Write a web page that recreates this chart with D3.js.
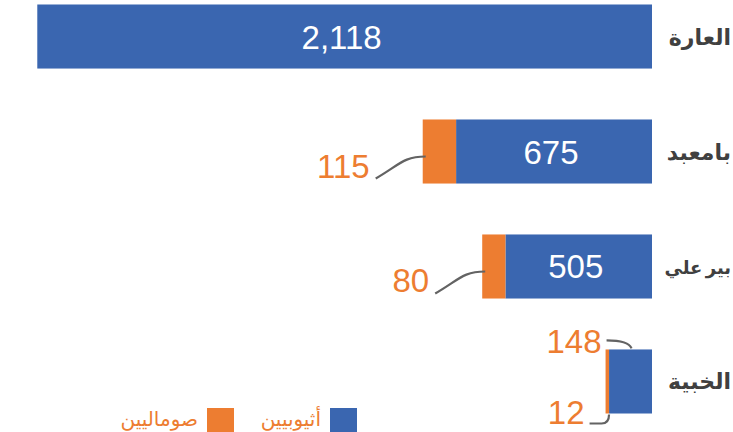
<!DOCTYPE html>
<html>
<head>
<meta charset="utf-8">
<script src="https://cdn.jsdelivr.net/npm/d3@7"></script>
<style>
  body { margin: 0; background: #fff; }
  svg { display: block; }
</style>
</head>
<body>
<svg id="chart" width="733" height="432"></svg>
<script>
// data
const categories = ["العارة", "بامعبد", "بير علي", "الخبية"];
const ethiopians = [2118, 675, 505, 148];
const somalis = [null, 115, 80, 12];
const legendLabels = ["أثيوبيين", "صوماليين"];

const blue = "#3A66B0",
  orange = "#ED7D31",
  leaderColor = "#636363",
  numFont = "'Liberation Sans', Arial, sans-serif";

const svg = d3.select("#chart");

// bars grow leftwards from the right edge
const x = d3.scaleLinear().domain([0, 2150]).range([652, 28]);
const y = d3
  .scaleBand()
  .domain(categories)
  .range([-21, 439])
  .paddingInner(0.443)
  .paddingOuter(0.2217);

const rows = categories.map((c, i) => ({
  cat: c,
  eth: ethiopians[i],
  som: somalis[i] || 0,
  i,
}));

const g = svg.append("g");

// blue part
g.selectAll(".eth")
  .data(rows)
  .enter()
  .append("rect")
  .attr("class", "eth")
  .attr("x", (d) => x(d.eth))
  .attr("y", (d) => y(d.cat))
  .attr("width", (d) => x(0) - x(d.eth))
  .attr("height", y.bandwidth())
  .attr("fill", blue);

// orange part stacked to the left
g.selectAll(".som")
  .data(rows.filter((d) => d.som > 0))
  .enter()
  .append("rect")
  .attr("class", "som")
  .attr("x", (d) => x(d.eth + d.som))
  .attr("y", (d) => y(d.cat))
  .attr("width", (d) => x(d.eth) - x(d.eth + d.som))
  .attr("height", y.bandwidth())
  .attr("fill", orange);

// category labels, shrunk so they stay right of the bars
g.selectAll(".cat")
  .data(rows)
  .enter()
  .append("text")
  .attr("class", "cat")
  .attr("x", 731)
  .attr("y", (d) => y(d.cat) + y.bandwidth() / 2 + 8)
  .attr("text-anchor", "end")
  .style("font-family", "'DejaVu Sans', sans-serif")
  .style("font-weight", "bold")
  .style("font-size", "22px")
  .style("word-spacing", "-3px")
  .attr("fill", "#404040")
  .text((d) => d.cat)
  .each(function () {
    const w = this.getComputedTextLength();
    if (w > 67) d3.select(this).style("font-size", (22 * 67) / w + "px");
  });

// white value labels inside the wide bars
g.selectAll(".val")
  .data(rows.filter((d) => d.eth > 300))
  .enter()
  .append("text")
  .attr("class", "val")
  .attr("x", (d) => (x(0) + x(d.eth)) / 2 - 3)
  .attr("y", (d) => y(d.cat) + y.bandwidth() / 2 + 12)
  .attr("text-anchor", "middle")
  .style("font-family", numFont)
  .style("font-size", "33px")
  .attr("fill", "#fff")
  .text((d) => d3.format(",")(d.eth));

const fmt = d3.format(",");
const labelStyle = (sel) =>
  sel
    .style("font-family", numFont)
    .style("font-size", "33px")
    .attr("fill", orange)
    .attr("text-anchor", "end");

// orange labels with leader lines for the mid bars
rows
  .filter((d) => d.som > 0 && d.eth > 300)
  .forEach((d) => {
    const left = x(d.eth + d.som);
    const cy = y(d.cat) + y.bandwidth() / 2;
    g.append("text")
      .call(labelStyle)
      .attr("x", left - 53)
      .attr("y", cy + 26)
      .text(fmt(d.som));
    const x0 = left - 47, y0 = cy + 27, x1 = left + 3, y1 = cy + 5;
    g.append("path")
      .attr(
        "d",
        `M${x0},${y0} C${x0 + 24},${y0 - 14} ${x1 - 22},${y1} ${x1},${y1}`
      )
      .attr("fill", "none")
      .attr("stroke", leaderColor)
      .attr("stroke-width", 2.2);
  });

// the small bar: labels above and below
rows
  .filter((d) => d.eth <= 300)
  .forEach((d) => {
    const top = y(d.cat);
    const bottom = top + y.bandwidth();
    const blueMid = (x(0) + x(d.eth)) / 2;
    const somLeft = x(d.eth + d.som);
    g.append("text")
      .call(labelStyle)
      .attr("x", somLeft - 4)
      .attr("y", top + 4)
      .text(fmt(d.eth));
    g.append("path")
      .attr(
        "d",
        `M${somLeft + 1},${top - 9} Q${blueMid - 2},${top - 9} ${blueMid + 1},${top - 1}`
      )
      .attr("fill", "none")
      .attr("stroke", leaderColor)
      .attr("stroke-width", 2.2);

    g.append("text")
      .call(labelStyle)
      .attr("x", somLeft - 21)
      .attr("y", bottom + 10)
      .text(fmt(d.som));
    g.append("path")
      .attr(
        "d",
        `M${somLeft - 16},${bottom + 10} L${somLeft - 4},${bottom + 10} Q${x(d.eth)},${bottom + 10} ${x(d.eth)},${bottom + 1}`
      )
      .attr("fill", "none")
      .attr("stroke", leaderColor)
      .attr("stroke-width", 2.2);
  });

// legend
const legend = svg.append("g");
const legendItems = [
  { label: legendLabels[0], color: blue, sx: 330 },
  { label: legendLabels[1], color: orange, sx: 207 },
];
legendItems.forEach((it) => {
  legend
    .append("rect")
    .attr("x", it.sx)
    .attr("y", 408)
    .attr("width", 27)
    .attr("height", 24)
    .attr("fill", it.color);
  legend
    .append("text")
    .attr("x", it.sx - 9)
    .attr("y", 426)
    .attr("text-anchor", "end")
    .style("font-family", "'DejaVu Sans', sans-serif")
    .style("font-size", "20px")
    .attr("fill", orange)
    .text(it.label);
});
</script>
</body>
</html>
